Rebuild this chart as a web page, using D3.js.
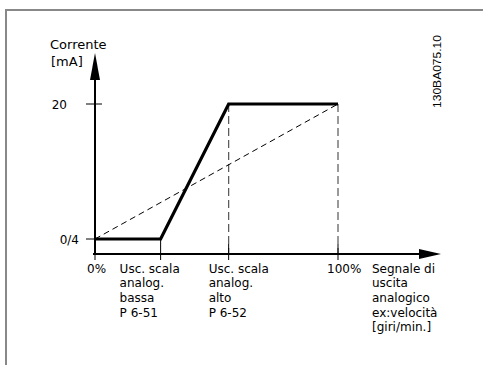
<!DOCTYPE html>
<html><head><meta charset="utf-8">
<script src="https://cdn.jsdelivr.net/npm/d3@7"></script>
<style>body{margin:0;background:#fff}svg{display:block}</style>
</head><body>
<script>
// Data
const xPct = [0, 27, 55, 100];             // signal (%) break points
const yOut = [4, 4, 20, 20];               // output current level (mA, 0/4..20)
const refX = [0, 100];                      // dashed reference line
const refY = [4, 20];
const yTickVals = [4, 20];
const yTickLabels = ["0/4", "20"];
const xLabels = [
  {v: 0, lines: ["0%"]},
  {v: 27, lines: ["Usc. scala", "analog.", "bassa", "P 6-51"]},
  {v: 55, lines: ["Usc. scala", "analog.", "alto", "P 6-52"]},
  {v: 100, lines: ["100%"]}
];
const xTitle = ["Segnale di", "uscita", "analogico", "ex:velocità", "[giri/min.]"];
const yTitle = ["Corrente", "[mA]"];
const docId = "130BA075.10";

const W = 484, H = 365;
const svg = d3.select("body").append("svg").attr("width", W).attr("height", H);
const x = d3.scaleLinear().domain([0, 100]).range([95, 338]);
const y = d3.scaleLinear().domain([4, 20]).range([239, 104]);
const x0 = x(0), yAxisY = 254;
const font = "DejaVu Sans, Verdana, sans-serif";

// frame
svg.append("path").attr("d", `M6,365 V10 H483`).attr("fill", "none").attr("stroke", "#888").attr("stroke-width", 2);

// dashed verticals
[55, 100].forEach(v => {
  svg.append("line").attr("x1", x(v)).attr("x2", x(v)).attr("y1", y(20)).attr("y2", yAxisY)
    .attr("stroke", "#555").attr("stroke-width", 1.2).attr("stroke-dasharray", "8,4");
});
// dashed diagonal
svg.append("line").attr("x1", x(refX[0])).attr("y1", y(refY[0])).attr("x2", x(refX[1])).attr("y2", y(refY[1]))
  .attr("stroke", "#000").attr("stroke-width", 1).attr("stroke-dasharray", "6,4");

// axes
svg.append("line").attr("x1", x0).attr("x2", x0).attr("y1", 78).attr("y2", yAxisY+1).attr("stroke", "#000").attr("stroke-width", 2);
svg.append("path").attr("d", `M${x0},53 L${x0-5},80 L${x0+5},80 Z`).attr("fill", "#000");
svg.append("line").attr("x1", x0-2).attr("x2", 422).attr("y1", yAxisY).attr("y2", yAxisY).attr("stroke", "#000").attr("stroke-width", 2);
svg.append("path").attr("d", `M441,${yAxisY} L419,${yAxisY-5} L419,${yAxisY+5} Z`).attr("fill", "#000");

// y ticks
svg.append("line").attr("x1", 86).attr("x2", 102).attr("y1", y(20)).attr("y2", y(20)).attr("stroke", "#000").attr("stroke-width", 1);
svg.append("line").attr("x1", 86).attr("x2", x0).attr("y1", y(4)).attr("y2", y(4)).attr("stroke", "#000").attr("stroke-width", 1);
yTickVals.forEach((v, i) => {
  svg.append("text").attr("x", v === 20 ? 67 : 79).attr("y", y(v) + 4.5).attr("text-anchor", "end")
    .attr("font-family", font).attr("font-size", 12).text(yTickLabels[i]);
});
// x ticks
xPct.forEach(v => {
  svg.append("line").attr("x1", x(v)).attr("x2", x(v)).attr("y1", v === 0 ? 245 : (v === 27 ? 239 : 244)).attr("y2", 260)
    .attr("stroke", "#000").attr("stroke-width", 1);
});

// main line
const line = d3.line().x(d => x(d[0])).y(d => y(d[1]));
svg.append("path").datum(xPct.map((v, i) => [v, yOut[i]])).attr("d", line)
  .attr("fill", "none").attr("stroke", "#000").attr("stroke-width", 3.2).attr("stroke-linejoin", "miter");

// x labels
const lh = 14.7;
const labelDx = {0: -8, 27: -41, 55: -20, 100: -11};
xLabels.forEach(l => {
  const t = svg.append("text").attr("font-family", font).attr("font-size", 12).attr("text-anchor", "start");
  l.lines.forEach((s, i) => {
    t.append("tspan").attr("x", x(l.v) + labelDx[l.v]).attr("y", 272.5 + i * lh).text(s);
  });
});
const xt = svg.append("text").attr("font-family", font).attr("font-size", 12);
xTitle.forEach((s, i) => xt.append("tspan").attr("x", 372).attr("y", 272.5 + i * lh).text(s));

// y title
const yt = svg.append("text").attr("font-family", font).attr("font-size", 13);
yt.append("tspan").attr("x", 50).attr("y", 49).text(yTitle[0]);
yt.append("tspan").attr("x", 51).attr("y", 66).text(yTitle[1]);

// doc id
svg.append("text").attr("transform", "translate(441,108) rotate(-90)")
  .attr("font-family", "Liberation Sans, Arial, sans-serif").attr("font-size", 11)
  .attr("textLength", 73).attr("lengthAdjust", "spacingAndGlyphs").text(docId);
</script>
</body></html>
